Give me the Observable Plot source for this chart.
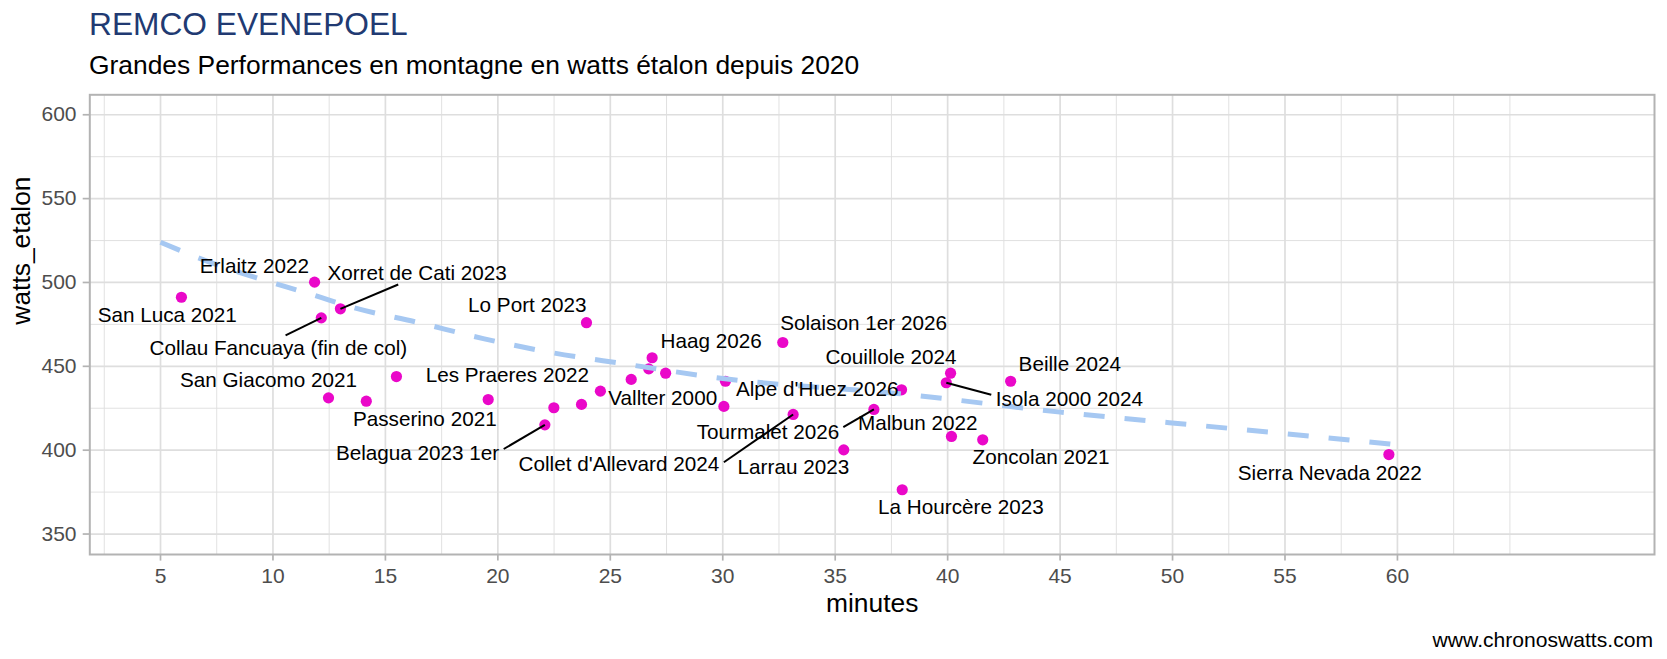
<!DOCTYPE html>
<html>
<head>
<meta charset="utf-8">
<script src="https://cdn.jsdelivr.net/npm/d3@7"></script>
<script src="https://cdn.jsdelivr.net/npm/@observablehq/plot@0.6"></script>
<style>
  html, body { margin: 0; padding: 0; background: #fff; }
  #wrap { position: relative; width: 1667px; height: 659px; overflow: hidden; font-family: "Liberation Sans", Arial, Helvetica, sans-serif; }
  #title { position: absolute; left: 89px; top: 9px; font-size: 31.7px; line-height: 1; color: #213a72; white-space: nowrap; }
  #subtitle { position: absolute; left: 89px; top: 51.6px; font-size: 26.4px; line-height: 1; color: #000; white-space: nowrap; }
  #chart { position: absolute; left: 0; top: 80px; }
  #caption { position: absolute; right: 14px; top: 628.8px; font-size: 21.1px; line-height: 1; color: #000; white-space: nowrap; }
</style>
</head>
<body>
<div id="wrap">
  <div id="title">REMCO EVENEPOEL</div>
  <div id="subtitle">Grandes Performances en montagne en watts étalon depuis 2020</div>
  <div id="chart"></div>
  <div id="caption">www.chronoswatts.com</div>
</div>
<script>
// ---- data ----
const minutes = [5.93, 11.85, 13.0, 12.15, 12.47, 14.15, 15.49, 19.57, 23.94, 22.09, 22.49, 23.72, 24.56, 25.93, 26.86, 26.71, 27.46, 30.12, 30.05, 32.67, 33.13, 35.38, 36.72, 37.95, 37.98, 40.13, 39.94, 40.17, 41.56, 42.8, 59.62];
const watts = [491.2, 500.2, 484.3, 478.9, 431.2, 429.2, 443.9, 430.2, 476.0, 415.1, 425.3, 427.3, 435.2, 442.2, 455.1, 448.5, 445.9, 441.1, 426.1, 464.2, 421.3, 400.2, 424.3, 436.0, 376.4, 445.9, 440.2, 408.2, 406.2, 441.1, 397.4];

const labelText = ["Erlaitz 2022", "Xorret de Cati 2023", "San Luca 2021", "Collau Fancuaya (fin de col)", "San Giacomo 2021", "Les Praeres 2022", "Passerino 2021", "Belagua 2023 1er", "Lo Port 2023", "Haag 2026", "Solaison 1er 2026", "Couillole 2024", "Vallter 2000", "Alpe d'Huez 2026", "Tourmalet 2026", "Malbun 2022", "Collet d'Allevard 2024", "Larrau 2023", "La Hourcère 2023", "Zoncolan 2021", "Beille 2024", "Isola 2000 2024", "Sierra Nevada 2022"];
const labelMinutes = [9.17, 16.41, 5.30, 10.24, 9.80, 20.42, 16.75, 16.43, 21.31, 29.48, 36.26, 37.48, 27.33, 34.20, 32.01, 38.67, 25.38, 33.14, 40.59, 44.15, 45.43, 45.41, 56.99];
const labelWatts = [509.7, 505.2, 480.3, 460.5, 441.6, 444.8, 418.1, 397.9, 486.3, 465.0, 475.4, 455.5, 430.7, 436.0, 410.7, 415.7, 391.5, 389.5, 365.7, 395.5, 450.9, 430.1, 386.3];

const leaderFromMinutes = [15.57, 10.56, 20.26, 35.36, 30.05, 41.94];
const leaderFromWatts = [498.8, 468.4, 400.7, 413.7, 392.8, 433.0];
const leaderToMinutes = [13.0, 12.15, 22.09, 36.72, 33.13, 39.94];
const leaderToWatts = [484.3, 478.9, 415.1, 424.3, 421.3, 440.2];

const trendMinutes = [5, 6.8, 12.1, 13.5, 16.4, 19.4, 22.3, 25.6, 30.1, 37.9, 45, 52.7, 60];
const trendWatts = [524.0, 514.1, 491.2, 485.3, 476.3, 466.4, 458.4, 451.5, 442.6, 433.6, 422.7, 412.8, 403.2];

const xMajorTicks = [5, 10, 15, 20, 25, 30, 35, 40, 45, 50, 55, 60];
const xMinorTicks = [2.5, 7.5, 12.5, 17.5, 22.5, 27.5, 32.5, 37.5, 42.5, 47.5, 52.5, 57.5, 62.5, 65];
const yMajorTicks = [350, 400, 450, 500, 550, 600];
const yMinorTicks = [375, 425, 475, 525, 575];

// ---- tables built from the arrays ----
const points = minutes.map((m, i) => ({minutes: m, watts: watts[i]}));
const labels = labelText.map((t, i) => ({text: t, minutes: labelMinutes[i], watts: labelWatts[i]}));
const leaders = leaderFromMinutes.map((m, i) => ({x1: m, y1: leaderFromWatts[i], x2: leaderToMinutes[i], y2: leaderToWatts[i]}));
const trend = trendMinutes.map((m, i) => ({minutes: m, watts: trendWatts[i]}));

const gridColor = "#dedede";
const chart = Plot.plot({
  width: 1667,
  height: 550,
  marginLeft: 89.3,
  marginRight: 13,
  marginTop: 14.3,
  marginBottom: 76,
  style: {fontFamily: "'Liberation Sans', Arial, Helvetica, sans-serif", background: "#fff", overflow: "visible"},
  x: {domain: [1.856, 71.43]},
  y: {domain: [337.8, 611.9]},
  marks: [
    Plot.ruleX(xMinorTicks, {stroke: gridColor, strokeWidth: 0.9}),
    Plot.ruleY(yMinorTicks, {stroke: gridColor, strokeWidth: 0.9}),
    Plot.ruleX(xMajorTicks, {stroke: gridColor, strokeWidth: 1.7}),
    Plot.ruleY(yMajorTicks, {stroke: gridColor, strokeWidth: 1.7}),
    Plot.axisX({ticks: xMajorTicks, tickFormat: d => String(d), tickSize: 6.6, tickPadding: 7, stroke: "#b3b3b3", strokeWidth: 1.7, fill: "#4d4d4d", fontSize: 21, label: null}),
    Plot.axisY({ticks: yMajorTicks, tickFormat: d => String(d), tickSize: 6.6, tickPadding: 6.7, stroke: "#b3b3b3", strokeWidth: 1.7, fill: "#4d4d4d", fontSize: 21, label: null}),
    Plot.dot(points, {x: "minutes", y: "watts", r: 5.6, fill: "#ea08c9", stroke: "none"}),
    Plot.line(trend, {x: "minutes", y: "watts", curve: "monotone-x", stroke: "#a6c8f2", strokeWidth: 5, strokeDasharray: "21,20", strokeLinecap: "butt"}),
    Plot.link(leaders, {x1: "x1", y1: "y1", x2: "x2", y2: "y2", stroke: "#000", strokeWidth: 2}),
    Plot.text(labels, {x: "minutes", y: "watts", text: "text", fontSize: 20.7, fill: "#000"}),
    Plot.frame({stroke: "#b3b3b3", strokeWidth: 2}),
    Plot.text(["minutes"], {frameAnchor: "bottom", lineAnchor: "bottom", dy: 57.7, fontSize: 26.4, fill: "#000"}),
    Plot.text(["watts_etalon"], {frameAnchor: "left", lineAnchor: "bottom", rotate: -90, dx: -60.3, fontSize: 26.4, fill: "#000"})
  ]
});
document.getElementById("chart").appendChild(chart);
</script>
</body>
</html>
